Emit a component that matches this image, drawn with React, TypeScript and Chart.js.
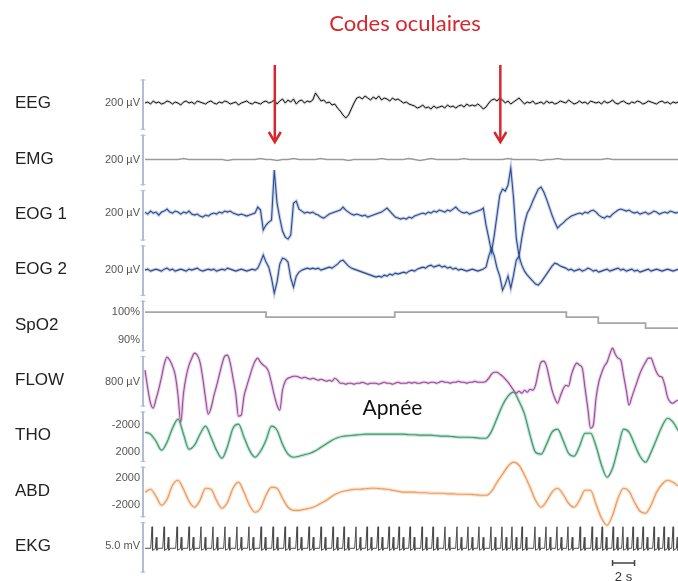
import { useEffect, useRef } from 'react';
import { Chart, registerables } from 'chart.js';

Chart.register(...registerables);

// ---------- data (time in seconds, sampled signals) ----------
const FINE_STEP_S = 0.25;
const COARSE_STEP_S = 0.5;
const TIME_MAX_S = 48.45;

const CHANNEL_NAMES = ['EEG', 'EMG', 'EOG 1', 'EOG 2', 'SpO2', 'FLOW', 'THO', 'ABD', 'EKG'];
const SCALE_IDS = ['yEEG', 'yEMG', 'yEOG1', 'yEOG2', 'ySpO2', 'yFLOW', 'yTHO', 'yABD', 'yEKG'];

const TICK_VALUES: Record<string, number[]> = {
  yEEG: [0], yEMG: [0], yEOG1: [0], yEOG2: [0], ySpO2: [100, 90], yFLOW: [0],
  yTHO: [-2000, 2000], yABD: [2000, -2000], yEKG: [0],
};
const TICK_LABELS: Record<string, string[]> = {
  yEEG: ['200 µV'], yEMG: ['200 µV'], yEOG1: ['200 µV'], yEOG2: ['200 µV'],
  ySpO2: ['100%', '90%'], yFLOW: ['800 µV'], yTHO: ['-2000', '2000'],
  yABD: ['2000', '-2000'], yEKG: ['5.0 mV'],
};

const EEG = [
  0, 1, -1, 2, 0, 1, -1, 0, 2, 1, -1, 1, 0, -2, 1, 2, 0, 1, -1, 2, 1, 0, -1, 1, 2, 0, -1, 1, 0, 2, 1, -1, 0, 1, -2, 0, 1, 2, 0, -1, 1, 0, -1, 1, 2, 0,
  1, 3, -1, 2, 4, 0, 3, 1, 4, -1, 2, 3, 0, 2, 1, 3,
  10, 6, 2, 3, 0, 1, -2, -1, -5, -8, -12, -15, -12, -6, 0, 5, 6,
  4, 7, 5, 3, 6, 4, 7, 3, 5, 4, 2, 5, 3, 4,
  2, 0, 1, -1, -2,
  -3, -5, -4, -2, -5, -4, -6, -3, -5, -4, -3, -5, -2, -4, -3, -5, -3, -2, -4, -1, -3, -2, -3, -1,
  -3, -6, -4, 0, 3, 4, 2,
  5, 3, 0, 2, -1, 1, 3, 5, 2, -1, 1, 0, 2, -1, 0, 1, -1, 2, 0, 1, -1, 0, 2, 1, 0, 3, 1, -1, 0, 2, 0, 1, -1, 2, 1, 0, 1, -1, 2, 0,
  1, 3, 0, -1, 1, 2, 0, -1, 1, 0, 2, 1, -1, 0, 2, 1, 0, -1, 1, 2, 0, 1, -1, 1, 0, 1,
];

const EMG = [
  0, 0, 0, 0, 0, 0, 0, 1, 0, 0, 0, 0, 0, 0, 0, -1, 0, 0, 0, 0, 0, 1, 0, 0, -1, 0, 0, 1, 0, 0,
  0, 0, 1, 0, 0, 0, 0, -1, 0, 0, 0, 0, 0, 1, 0, 0, 0, 0, 1, 0, -1, 0, 1, 0, 0, 0, 0, 0, 1, 0,
  0, 0, 0, 0, 0, 0, 1, 0, 0, 0, 0, 0, -1, 0, 0, 1, 0, 0, 0, 0, 0, 0, 0, 0, 1, 0, 0, 0, 0, 0,
  0, 0, 0, 0, 0, 0, 0, 0,
];

const EOG1 = [
  1, -1, 2, 0, 1, -2, 1, 2, 4, 1, 0, 2, 1, -1, 1, 0, 2, -1, -2, -1, -3, -4, -2, -3, -1, 0, -1, 1, 0, 2, 1, 2, 0, -1, -2, -1, -2, -3, -2, -1, 0,
  6, 3, -17, -12, -9, -7, 43, 10, -5, -18, -24, -26, -22, 10, 12, 4, 2, 0, 1,
  0, 1, -1, -2, -4, -5, -3, -1, 0, 1, 2, 3, 6, 3, 1, -1, -2, -1, -2, -3, -2, -4, -3, -2, -1, 0, 1, 3, 5, 2, -1, -4, -5, -6,
  -5, -6, -4, -5, -3, -2, -1, 0, -1, 1, 0, 2, 1, 3, 2, 1, 3, 2, 4, 6, 3, 1, 0, 1, -1, 0, 1,
  2, 3, 5, -12, -25, -39, -22, -2, 18, 24, 22, 28, 45, 15, -25, -43, -25, -10, 0, 5, 12, 18, 24, 26, 21, 14, 6, -2, -9, -15, -12, -10, -7, -5, -3, -2,
  -1, 0, -1, 1, 0, 2, 3, 1, -2, -4, -5, -3, -4, -1, 1, 3, 4, 3, 2, 3, 1, 0, 1, -1, 0, 1, -1, 0, 2, 1, -1, 0, 1, 0, 2, 1, 0, 1,
];

const EOG2 = [
  0, 1, -1, 0, 1, 0, -1, 1, 2, 0, 1, -1, 0, 1, 0, -1, 1, 0, 1, 2, 0, -1, 0, 1, 0, 1, -1, 0, 1, 0, 2, 1, 0, -1, 0, 1, 0, -1, 0, 1, 0,
  2, 8, 15, 8, 3, -8, -23, -12, 6, 12, 11, 8, -8, -17, -6, -2, 0, 1, 2,
  1, 2, 1, 2, 0, 1, 2, 3, 2, 4, 6, 9, 10, 7, 4, 2, 1, 0, -1, -2, -3, -4, -5, -6, -7, -6, -7, -5, -6, -4, -5, -3, -4, -3,
  -2, -3, -1, 0, -1, 1, 2, 3, 2, 4, 5, 3, 4, 5, 3, 4, 2, 3, 1, 2, 0, 1, 0, -1, 0, 1, 0, -1, 0,
  1, 3, 14, 22, 14, 2, -6, -20, -14, -6, -18, -5, 10, 14, 5, -1, -5, -8, -11, -14, -15, -12, -8, -4, 0, 4, 7, 6, 4, 3, 2, 0, 1, -1,
  0, 1, -1, 0, 2, 1, -1, 0, -2, -1, 0, 1, -1, 0, 1, 2, 0, 1, -1, 0, 1, -1, 0, -2, -1, 0, 1, -1, 0, 1, 0, -1, 0, 1, 0, -1, 0, 1,
];

const SPO2_TIMES = [0, 11.0, 22.7, 38.3, 41.2, 45.5, 48.5];
const SPO2_PCT = [100, 98.2, 100, 98.2, 96.1, 94.3, 94.3];

const FLOW = [
  12, -6, -21, -26, -17, -7, 5, 18, 25, 22, 16, 7, -13, -40, -11, 6, 17, 24, 29, 27,
  20, 4, -16, -32, -26, -14, -4, 7, 18, 26, 27, 19, 4, -12, -34, -33, -14, -4, 5, 14,
  21, 24, 20, 17, 15, 10, -1, -13, -23, -28, -8, 1, 4, 5, 6, 6, 5, 4, 5, 4,
  3, 4, 3, 2, 3, 2, 1, 2, 1, 4, 2, -1,
  -1, -2, -1, -1, -2, -1, -1, 0, -1, -2, -1, -1, -1, -2, -1, 0, -1, -1, -2, -1,
  0, -1, -1, -1, 0, -1, 0, -1, -1, 0, 0, -1, 0, 0, -1, 0, 1, 0, 0, -1,
  0, 0, 1, 0, 0, -1, 0, 0, 1, 0, 0, 0, 1,
  4, 8, 10, 10, 8, 6, 3, 0, -4, -8, -11, -9, -11, -8, -10, -7, -8, -3, 10, 20,
  21, 16, 4, -8, -16, -21, -14, -7, -3, -4, 7, 15, 19, 17, 14, -6, -26, -46, -43, -16,
  0, 9, 16, 20, 28, 34, 28, 24, 22, 7, -8, -23, -15, -7, 1, 9, 15, 20, 24, 24,
  17, 10, 6, 5, -3, -15, -20, -21, -19, -18,
];

const THO = [
  -960, -670, 370, 1700, 520, -1550, -2890, -670, 1550, 960,
  -670, -1850, -220, 1700, 2890, 1110, -1550, -2150, -220, 1700,
  2740, 1850, 220, -1850, -1260, 810, 2290, 2740, 2590, 2370,
  2150, 1780, 1260, 740, 220, -150, -370, -440, -520, -590,
  -670, -670, -670, -670, -670, -670, -670, -670, -590, -590,
  -520, -520, -520, -440, -370, -370, -300, -220, -220, -220,
  -150, -70, -70, -1110, -3030, -4960, -6290, -6880, -5550,
  -3630, -520, 2000, 2290, 810, -960, -1410, 220, 2150, 2590,
  1110, -810, -810, 1110, 3920, 5700, 4370, 1410, -1410, -960,
  810, 2590, 3480, 2000, 70, -1850, -3030, -2440, -1110,
];

const ABD = [
  -70, 370, -670, -2000, -1110, 960, 1700, 370, -1410, -2290,
  -1260, 520, 370, -1260, -2440, -1550, 520, 1410, -70, -2000,
  -3030, -2440, -520, 670, 520, -960, -2290, -2740, -2740, -2590,
  -2440, -2150, -1700, -1260, -670, -220, 70, 220, 370, 370,
  440, 520, 520, 440, 370, 220, 70, -70, -70, -70,
  -150, -150, -220, -220, -220, -300, -300, -370, -370, -370,
  -440, -520, -520, 70, 1410, 2590, 3770, 4370, 3920, 2440,
  670, -1260, -2290, -1410, -70, 520, -370, -1700, -2290, -1260,
  220, 220, -1850, -3920, -4960, -3480, -960, 520, 70, -1550,
  -2890, -3180, -2000, -70, 1110, 1700, 1410, 810,
];

const EKG_BEAT_TIMES = [
  0.64, 1.73, 2.91, 4.0, 5.09, 6.18, 7.27, 8.36, 9.45, 10.55, 11.64, 12.73, 13.82, 14.91, 16.0, 17.09,
  18.09, 19.18, 20.18, 21.18, 22.18, 23.09, 24.09, 25.18, 26.18, 27.27, 28.36, 29.36, 30.36, 31.45,
  32.45, 33.36, 34.27, 35.45, 36.45, 37.45, 38.45, 39.55, 40.64, 41.55, 42.55, 43.45, 44.36, 45.27,
  46.27, 47.18, 48.0,
];
const EKG_WAVE_OFFSETS_S = [-0.12, 0, 0.05, 0.3, 0.38, 0.44, 0.55];
const EKG_WAVE_MV = [-0.25, 1.9, -0.45, -0.28, 0.85, -0.45, -0.25];

const ARROW_TIMES_S = [11.8, 32.3];
const APNEA_LABEL_TIME_S = 22.5;
const SCALE_BAR_S = [42.5, 44.5];

// ---------- helpers ----------
const sampled = (vals: number[], step: number) => vals.map((v, i) => ({ x: i * step, y: v }));
const ekgPoints = [
  { x: 0, y: -0.25 },
  ...EKG_BEAT_TIMES.flatMap((t) => EKG_WAVE_OFFSETS_S.map((o, k) => ({ x: t + o, y: EKG_WAVE_MV[k] }))),
];

const SANS = '"Liberation Sans", Arial, sans-serif';

function line(id: string, data: any[], color: string, width: number, extra: any = {}) {
  return { data, yAxisID: id, borderColor: color, borderWidth: width, pointRadius: 0, tension: 0, clip: false, order: 0, ...extra };
}
function halo(id: string, data: any[], color: string, width: number, extra: any = {}) {
  return line(id, data, color, width, { order: 1, ...extra });
}

const overlayPlugin = {
  id: 'psgOverlay',
  afterDraw(chart: any) {
    const ctx = chart.ctx as CanvasRenderingContext2D;
    const xs = chart.scales.x;
    const left = chart.chartArea.left;
    ctx.save();
    // axis segments + channel names
    SCALE_IDS.forEach((id, k) => {
      const s = chart.scales[id];
      const top = s.top + 3;
      const bottom = s.bottom - 3;
      ctx.strokeStyle = '#b4bcd4';
      ctx.lineWidth = 2;
      ctx.lineCap = 'round';
      ctx.beginPath();
      ctx.moveTo(left - 2, top);
      ctx.lineTo(left - 2, bottom);
      ctx.stroke();
      ctx.lineWidth = 1;
      ctx.beginPath();
      ctx.moveTo(left - 4, top); ctx.lineTo(left, top);
      ctx.moveTo(left - 4, bottom); ctx.lineTo(left, bottom);
      ctx.stroke();
      ctx.fillStyle = '#222';
      ctx.font = `17px ${SANS}`;
      ctx.textAlign = 'left';
      ctx.textBaseline = 'middle';
      ctx.fillText(CHANNEL_NAMES[k], 15, (s.top + s.bottom) / 2 - 1);
    });
    // title
    ctx.fillStyle = '#d7262d';
    ctx.font = '22px Lato, "Open Sans", sans-serif';
    ctx.textAlign = 'center';
    ctx.textBaseline = 'alphabetic';
    ctx.fillText('Codes oculaires', 405, 31);
    // arrows
    ctx.strokeStyle = '#d7262d';
    ctx.lineWidth = 2.5;
    ctx.lineCap = 'butt';
    ctx.lineJoin = 'miter';
    ARROW_TIMES_S.forEach((t) => {
      const x = xs.getPixelForValue(t);
      ctx.beginPath();
      ctx.moveTo(x, 65);
      ctx.lineTo(x, 142);
      ctx.stroke();
      ctx.beginPath();
      ctx.moveTo(x - 6, 132);
      ctx.lineTo(x, 142);
      ctx.lineTo(x + 6, 132);
      ctx.stroke();
    });
    // apnea label
    ctx.fillStyle = '#111';
    ctx.font = '21px Lato, "Open Sans", sans-serif';
    ctx.textAlign = 'center';
    ctx.fillText('Apnée', xs.getPixelForValue(APNEA_LABEL_TIME_S), 415);
    // scale bar
    const x0 = xs.getPixelForValue(SCALE_BAR_S[0]);
    const x1 = xs.getPixelForValue(SCALE_BAR_S[1]);
    ctx.strokeStyle = '#444';
    ctx.lineWidth = 1.5;
    ctx.beginPath();
    ctx.moveTo(x0, 563); ctx.lineTo(x1, 563);
    ctx.moveTo(x0, 560); ctx.lineTo(x0, 566);
    ctx.moveTo(x1, 560); ctx.lineTo(x1, 566);
    ctx.stroke();
    ctx.fillStyle = '#333';
    ctx.font = `13px ${SANS}`;
    ctx.textAlign = 'center';
    ctx.fillText('2 s', (x0 + x1) / 2, 581);
    ctx.restore();
  },
};

const RANGES: Record<string, [number, number]> = {
  yEEG: [-29.3, 26],
  yEMG: [-28.1, 27.2],
  yEOG1: [-29.9, 25.4],
  yEOG2: [-28.2, 27.1],
  ySpO2: [85.18, 104.93],
  yFLOW: [-26.8, 28.5],
  yTHO: [-4396, 3789],
  yABD: [-4129, 4055],
  yEKG: [-2.92, 2.61],
};

function yScale(id: string, k: number) {
  const [min, max] = RANGES[id];
  return {
    type: 'linear',
    position: 'left',
    stack: 'channels',
    stackWeight: 1,
    weight: SCALE_IDS.length - k,
    min,
    max,
    reverse: id === 'yTHO',
    grid: { display: false, drawTicks: false },
    border: { display: false },
    afterBuildTicks: (axis: any) => {
      axis.ticks = TICK_VALUES[id].map((v) => ({ value: v }));
    },
    afterFit: (axis: any) => {
      axis.width = 145;
      axis.paddingTop = 0;
      axis.paddingBottom = 0;
    },
    ticks: {
      padding: 5,
      color: '#555',
      font: { family: SANS, size: 11 },
      autoSkip: false,
      callback: (value: number) => {
        const idx = TICK_VALUES[id].indexOf(value);
        return idx >= 0 ? TICK_LABELS[id][idx] : '';
      },
    },
  };
}

export default function App() {
  const ref = useRef<HTMLCanvasElement>(null);
  useEffect(() => {
    const canvas = ref.current;
    if (!canvas) return;
    const eeg = sampled(EEG, FINE_STEP_S);
    const eog1 = sampled(EOG1, FINE_STEP_S);
    const eog2 = sampled(EOG2, FINE_STEP_S);
    const flow = sampled(FLOW, FINE_STEP_S);
    const tho = sampled(THO, COARSE_STEP_S);
    const abd = sampled(ABD, COARSE_STEP_S);
    const emg = sampled(EMG, COARSE_STEP_S);
    const spo2 = SPO2_TIMES.map((t, i) => ({ x: t, y: SPO2_PCT[i] }));
    const smooth = { cubicInterpolationMode: 'monotone' };

    const scales: any = {
      x: { type: 'linear', min: 0, max: TIME_MAX_S, display: false },
    };
    SCALE_IDS.forEach((id, k) => { scales[id] = yScale(id, k); });

    const chart = new Chart(canvas, {
      type: 'line',
      data: {
        datasets: [
          halo('yEEG', eeg, 'rgba(0,0,0,0.18)', 2.6),
          line('yEEG', eeg, '#151515', 1),
          line('yEMG', emg, '#9a9a9a', 1.6),
          halo('yEOG1', eog1, 'rgba(130,155,205,0.45)', 3.2),
          line('yEOG1', eog1, '#2c4b8e', 1.1),
          halo('yEOG2', eog2, 'rgba(130,155,205,0.45)', 3.2),
          line('yEOG2', eog2, '#2c4b8e', 1.1),
          line('ySpO2', spo2, '#a6a6a6', 1.8, { stepped: 'before' }),
          halo('yFLOW', flow, 'rgba(205,160,210,0.5)', 3.2, smooth),
          line('yFLOW', flow, '#9a4a98', 1.1, smooth),
          halo('yTHO', tho, 'rgba(150,205,178,0.55)', 3.4, smooth),
          line('yTHO', tho, '#3f9a6d', 1.2, smooth),
          halo('yABD', abd, 'rgba(248,205,170,0.6)', 3.4, smooth),
          line('yABD', abd, '#ee9a5c', 1.2, smooth),
          line('yEKG', ekgPoints, '#4a4a4a', 1),
        ] as any,
      },
      options: {
        animation: false,
        responsive: false,
        maintainAspectRatio: false,
        layout: { padding: { top: 77, bottom: 6, left: 0, right: 0 } },
        plugins: { legend: { display: false }, tooltip: { enabled: false }, title: { display: false } },
        elements: { point: { radius: 0 } },
        scales,
      } as any,
      plugins: [overlayPlugin],
    });
    return () => chart.destroy();
  }, []);

  return (
    <div style={{ position: 'fixed', left: 0, top: 0, width: 678, height: 581, background: '#fff' }}>
      <canvas ref={ref} width={678} height={581} style={{ display: 'block', width: 678, height: 581 }} />
    </div>
  );
}
